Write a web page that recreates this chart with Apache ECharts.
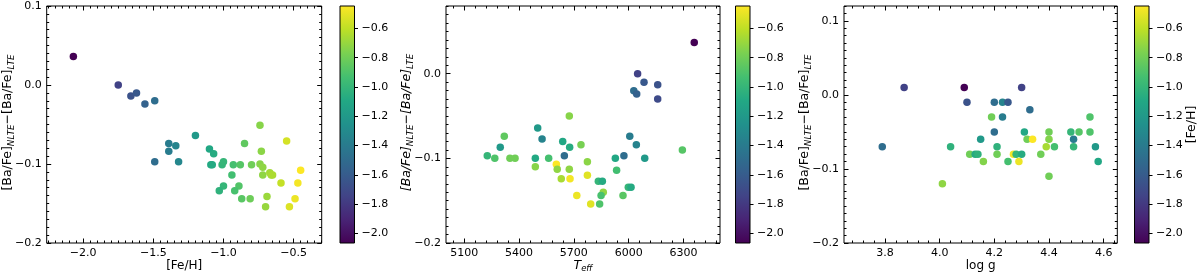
<!DOCTYPE html>
<html><head><meta charset="utf-8">
<script src="https://cdn.jsdelivr.net/npm/echarts@6/dist/echarts.min.js"></script>
<style>html,body{margin:0;padding:0;background:#fff}#c{width:1200px;height:276px}</style>
</head><body><div id="c"></div>
<script>
// ---------- data ----------
const feH1 = [-2.07,-1.75,-1.66,-1.62,-1.56,-1.49,-1.49,-1.39,-1.39,-1.34,-1.32,-1.20,-1.10,-1.07,-1.09,-1.08,-1.01,-1.00,-0.93,-0.88,-0.80,-0.85,-0.74,-0.73,-0.74,-0.72,-0.72,-0.67,-0.66,-0.65,-0.55,-0.45,-0.59,-0.47,-0.94,-1.00,-0.89,-1.03,-0.92,-0.87,-0.81,-0.69,-0.70,-0.49,-0.53];
const dBa1 = [0.036,0.000,-0.014,-0.010,-0.024,-0.020,-0.097,-0.074,-0.084,-0.077,-0.097,-0.064,-0.081,-0.087,-0.101,-0.101,-0.101,-0.097,-0.101,-0.101,-0.101,-0.074,-0.051,-0.084,-0.100,-0.104,-0.114,-0.111,-0.114,-0.114,-0.071,-0.108,-0.124,-0.124,-0.114,-0.128,-0.128,-0.134,-0.134,-0.144,-0.144,-0.141,-0.154,-0.144,-0.154];

const teff2 = [6359,6049,6084,6159,6028,6044,6159,6006,6042,6294,5927,5974,6088,5934,5834,5856,5998,6013,5861,5849,5969,5841,5792,5774,5774,5716,5739,5675,5677,5639,5648,5604,5609,5675,5631,5679,5562,5526,5502,5489,5489,5350,5378,5319,5297,5226,5267];
const dBa2 = [0.037,0.000,-0.010,-0.013,-0.020,-0.024,-0.030,-0.074,-0.084,-0.090,-0.100,-0.097,-0.100,-0.114,-0.127,-0.127,-0.134,-0.134,-0.140,-0.144,-0.144,-0.154,-0.154,-0.104,-0.120,-0.144,-0.084,-0.050,-0.087,-0.080,-0.097,-0.107,-0.113,-0.113,-0.124,-0.124,-0.100,-0.077,-0.064,-0.100,-0.110,-0.100,-0.100,-0.074,-0.087,-0.097,-0.100];
const feH2 = [-2.07,-1.75,-1.62,-1.66,-1.49,-1.57,-1.70,-1.39,-1.35,-0.88,-1.10,-1.49,-1.20,-0.94,-1.00,-1.08,-1.00,-1.08,-0.72,-0.92,-0.87,-0.90,-0.52,-0.73,-0.52,-0.49,-0.78,-0.74,-1.07,-1.10,-1.49,-0.45,-0.72,-0.72,-0.66,-0.47,-0.93,-1.35,-1.20,-1.09,-0.74,-0.80,-0.80,-0.85,-1.20,-1.00,-0.90];

const logg3 = [3.79,3.87,4.01,4.04,4.09,4.10,4.11,4.13,4.14,4.15,4.16,4.19,4.20,4.23,4.25,4.23,4.20,4.21,4.21,4.25,4.27,4.28,4.30,4.29,4.30,4.33,4.31,4.32,4.34,4.37,4.39,4.40,4.40,4.40,4.42,4.48,4.51,4.49,4.49,4.55,4.55,4.57,4.58];
const dBa3 = [-0.07,0.01,-0.12,-0.07,0.01,-0.01,-0.08,-0.08,-0.08,-0.06,-0.09,-0.03,-0.01,-0.01,-0.01,-0.03,-0.05,-0.07,-0.08,-0.09,-0.08,-0.08,-0.08,-0.09,0.01,-0.02,-0.05,-0.06,-0.06,-0.08,-0.07,-0.05,-0.06,-0.11,-0.07,-0.05,-0.05,-0.06,-0.07,-0.03,-0.05,-0.07,-0.09];
const feH3 = [-1.49,-1.75,-0.72,-1.03,-2.07,-1.66,-0.80,-1.08,-1.03,-1.20,-0.75,-0.80,-1.49,-1.35,-1.62,-1.39,-1.49,-1.03,-0.80,-0.93,-0.47,-1.00,-1.07,-0.49,-1.75,-1.49,-1.10,-0.80,-0.45,-0.80,-0.66,-0.80,-0.75,-0.80,-0.93,-1.00,-0.88,-1.39,-1.00,-0.90,-0.90,-1.20,-1.10];

const xTicks1 = [-2.0,-1.5,-1.0,-0.5];
const xTicks2 = [5100,5400,5700,6000,6300];
const xTicks3 = [3.8,4.0,4.2,4.4,4.6];
const yTicks1 = [-0.2,-0.1,0.0,0.1];
const yTicks2 = [-0.2,-0.1,0.0];
const yTicks3 = [-0.2,-0.1,0.0,0.1];
const cbTicks = [-2.0,-1.8,-1.6,-1.4,-1.2,-1.0,-0.8,-0.6];
const cbRange = [-2.066,-0.447];
const viridis = ['#440154','#482475','#414487','#355f8d','#2a788e','#21918c','#22a884','#44bf70','#7ad151','#bddf26','#fde725'];

// ---------- layout ----------
const FONT = 'DejaVu Sans';
const FS = 11;        // tick labels
const FT = 12.5;      // y titles / colorbar title
const FX = 12;        // x titles
const TOP = 6, H = 237;
const fmt = d => v => (v < -1e-9 ? '\u2212' : '') + Math.abs(v).toFixed(d);
function minors(lo, hi, step, majors) {
  const out = [];
  const n0 = Math.ceil(lo / step - 1e-6), n1 = Math.floor(hi / step + 1e-6);
  for (let n = n0; n <= n1; n++) {
    const v = +(n * step).toFixed(6);
    if (!majors.some(m => Math.abs(m - v) < step * 1e-3)) out.push(v);
  }
  return out;
}

const panels = [
  {left: 46.7, width: 275, xr: [-2.26, -0.30], yr: [-0.2, 0.1], xt: xTicks1, yt: yTicks1, xm: 0.05, ym: 0.01, xd: 1,
   data: feH1.map((x, i) => [x, dBa1[i], x]), cbLeft: 340},
  {left: 446, width: 274, xr: [5000, 6500], yr: [-0.2, 0.08], xt: xTicks2, yt: yTicks2, xm: 60, ym: 0.01, xd: 0,
   data: teff2.map((x, i) => [x, dBa2[i], feH2[i]]), cbLeft: 735.5},
  {left: 844, width: 273.3, xr: [3.65, 4.65], yr: [-0.2, 0.12], xt: xTicks3, yt: yTicks3, xm: 0.04, ym: 0.01, xd: 1,
   data: logg3.map((x, i) => [x, dBa3[i], feH3[i]]), cbLeft: 1134.5}
];
const CBW = 14.5;

const grid = [], xAxis = [], yAxis = [], series = [];
const labelStyle = {fontFamily: FONT, fontSize: FS, color: '#000'};

function tickAxes(list, gi, pos, range, majors, minorVals, digits, withLabels) {
  const idx = list.length;
  list.push({
    type: 'value', gridIndex: gi, position: pos, min: range[0], max: range[1],
    axisLine: {show: false, onZero: false}, splitLine: {show: false},
    axisTick: {show: true, inside: true, length: 4.5, lineStyle: {color: '#000', width: 1}, customValues: majors},
    axisLabel: Object.assign({show: withLabels, customValues: majors, formatter: fmt(digits), margin: 5}, labelStyle)
  });
  list.push({
    type: 'value', gridIndex: gi, position: pos, min: range[0], max: range[1],
    axisLine: {show: false, onZero: false}, splitLine: {show: false},
    axisTick: {show: true, inside: true, length: 2.5, lineStyle: {color: '#000', width: 1}, customValues: minorVals},
    axisLabel: {show: false}
  });
  return idx;
}

panels.forEach((p, k) => {
  grid.push({left: p.left, top: TOP, width: p.width, height: H, show: true, borderColor: '#000', borderWidth: 1, backgroundColor: 'transparent'});
  const xmin = minors(p.xr[0], p.xr[1], p.xm, p.xt);
  const ymin = minors(p.yr[0], p.yr[1], p.ym, p.yt);
  const xi = tickAxes(xAxis, k, 'bottom', p.xr, p.xt, xmin, p.xd, true);
  tickAxes(xAxis, k, 'top', p.xr, p.xt, xmin, p.xd, false);
  const yi = tickAxes(yAxis, k, 'left', p.yr, p.yt, ymin, 1, true);
  tickAxes(yAxis, k, 'right', p.yr, p.yt, ymin, 1, false);
  series.push({type: 'scatter', xAxisIndex: xi, yAxisIndex: yi, data: p.data, symbolSize: 7.5, itemStyle: {opacity: 1}, silent: true, animation: false});
});

// colorbars
panels.forEach((p, k) => {
  const gi = 3 + k;
  grid.push({left: p.cbLeft, top: TOP, width: CBW, height: H, show: false});
  const xi = xAxis.length;
  xAxis.push({type: 'value', gridIndex: gi, min: 0, max: 1, show: false});
  const yi = yAxis.length;
  yAxis.push({
    type: 'value', gridIndex: gi, position: 'right', min: cbRange[0], max: cbRange[1],
    axisLine: {show: false, onZero: false}, splitLine: {show: false},
    axisTick: {show: true, inside: false, length: 3.5, lineStyle: {color: '#000', width: 1}, customValues: cbTicks},
    axisLabel: Object.assign({customValues: cbTicks, formatter: fmt(1), margin: 7}, labelStyle)
  });
  series.push({
    type: 'custom', xAxisIndex: xi, yAxisIndex: yi, silent: true, animation: false,
    data: [[0, cbRange[0], 1, cbRange[1]]], encode: {x: [0, 2], y: [1, 3]},
    renderItem: (params, api) => {
      const a = api.coord([api.value(0), api.value(1)]);
      const b = api.coord([api.value(2), api.value(3)]);
      return {
        type: 'rect',
        shape: {x: a[0], y: b[1], width: b[0] - a[0], height: a[1] - b[1]},
        style: {
          fill: new echarts.graphic.LinearGradient(0, 1, 0, 0, viridis.map((c, i) => ({offset: i / (viridis.length - 1), color: c}))),
          stroke: '#000', lineWidth: 1
        }
      };
    }
  });
});

// titles
const yTitle = (p, italicAll) => ({
  type: 'text', x: p.left - 39, y: TOP + H / 2 - 2, rotation: Math.PI / 2,
  style: {
    text: '{n|[Ba/Fe]}{s|NLTE}{n|\u2212[Ba/Fe]}{s|LTE}',
    align: 'center', verticalAlign: 'middle', fill: '#000',
    rich: {
      n: {fontFamily: FONT, fontSize: FT, fontStyle: italicAll ? 'italic' : 'normal', lineHeight: 17, fill: '#000'},
      s: {fontFamily: FONT, fontSize: 8.75, fontStyle: 'italic', verticalAlign: 'bottom', lineHeight: 11, fill: '#000'}
    }
  }, silent: true
});
const xTitle = (p, text, rich) => ({
  type: 'text', x: p.left + p.width / 2, y: 266,
  style: Object.assign({text: text, align: 'center', verticalAlign: 'middle', fill: '#000', fontFamily: FONT, fontSize: FX}, rich ? {rich} : {}),
  silent: true
});
const graphic = [
  yTitle(panels[0], false), yTitle(panels[1], true), yTitle(panels[2], false),
  xTitle(panels[0], '[Fe/H]'),
  xTitle(panels[1], '{t|T}{s|eff}', {
    t: {fontFamily: FONT, fontSize: 12.5, fontStyle: 'italic', lineHeight: 15, fill: '#000'},
    s: {fontFamily: FONT, fontSize: 8.5, fontStyle: 'italic', verticalAlign: 'bottom', lineHeight: 10, fill: '#000'}
  }),
  xTitle(panels[2], 'log g'),
  {type: 'text', x: 1191.5, y: TOP + H / 2, rotation: Math.PI / 2, silent: true,
   style: {text: '[Fe/H]', align: 'center', verticalAlign: 'middle', fill: '#000', fontFamily: FONT, fontSize: FT}}
];

const chart = echarts.init(document.getElementById('c'), null, {renderer: 'canvas', width: 1200, height: 276});
chart.setOption({
  animation: false,
  backgroundColor: '#fff',
  grid, xAxis, yAxis, series, graphic,
  visualMap: {type: 'continuous', show: false, min: cbRange[0], max: cbRange[1], dimension: 2, seriesIndex: [0, 1, 2], inRange: {color: viridis}}
});
</script>
</body></html>
